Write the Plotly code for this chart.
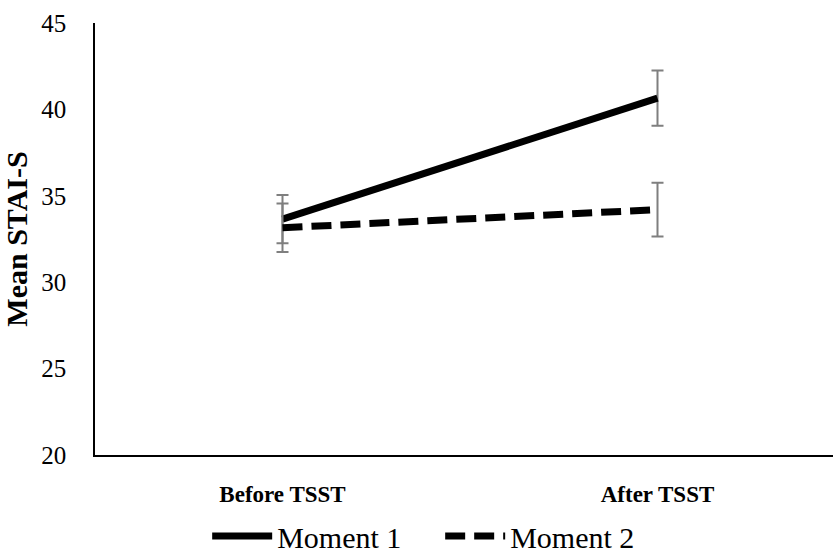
import plotly.graph_objects as go

categories = ["Before TSST", "After TSST"]
moment1 = [33.65, 40.65]
moment1_err = [1.4, 1.6]
moment2 = [33.15, 34.2]
moment2_err = [1.4, 1.55]

SERIF = "Liberation Serif, Times New Roman, serif"

fig = go.Figure()
fig.add_trace(go.Scatter(
    x=categories, y=moment1, name="Moment 1", mode="lines",
    line=dict(color="black", width=7),
    error_y=dict(type="data", array=moment1_err, visible=True, color="#7f7f7f", thickness=2, width=6),
))
fig.add_trace(go.Scatter(
    x=categories, y=moment2, name="Moment 2", mode="lines",
    line=dict(color="black", width=7, dash="20px,9px"),
    error_y=dict(type="data", array=moment2_err, visible=True, color="#7f7f7f", thickness=2, width=6),
))

fig.update_layout(
    width=833, height=556,
    margin=dict(l=95, r=0, t=23, b=101, autoexpand=False),
    paper_bgcolor="white", plot_bgcolor="white",
    font=dict(family=SERIF, color="black"),
    showlegend=True,
    legend=dict(orientation="h", x=0.152, xanchor="left", yref="container", y=0.036, yanchor="middle",
                font=dict(size=30, family=SERIF, color="black"), itemwidth=60, tracegroupgap=0,
                entrywidth=158),
    xaxis=dict(type="category", range=[-0.5, 1.468], showgrid=False, zeroline=False,
               showline=True, linecolor="black", linewidth=1.5, ticks="",
               tickfont=dict(size=23, family=SERIF, color="black", weight="bold"),
               ticklabelstandoff=18),
    yaxis=dict(range=[20, 45], tickvals=[20, 25, 30, 35, 40, 45], showgrid=False, zeroline=False,
               showline=True, linecolor="black", linewidth=1.5, ticks="",
               tickfont=dict(size=25, family=SERIF, color="black"),
               ticklabelstandoff=22,
               title=dict(text="<b>Mean STAI-S</b>", font=dict(size=30, family=SERIF, color="black"), standoff=6)),
)

fig.write_html("out.html")
